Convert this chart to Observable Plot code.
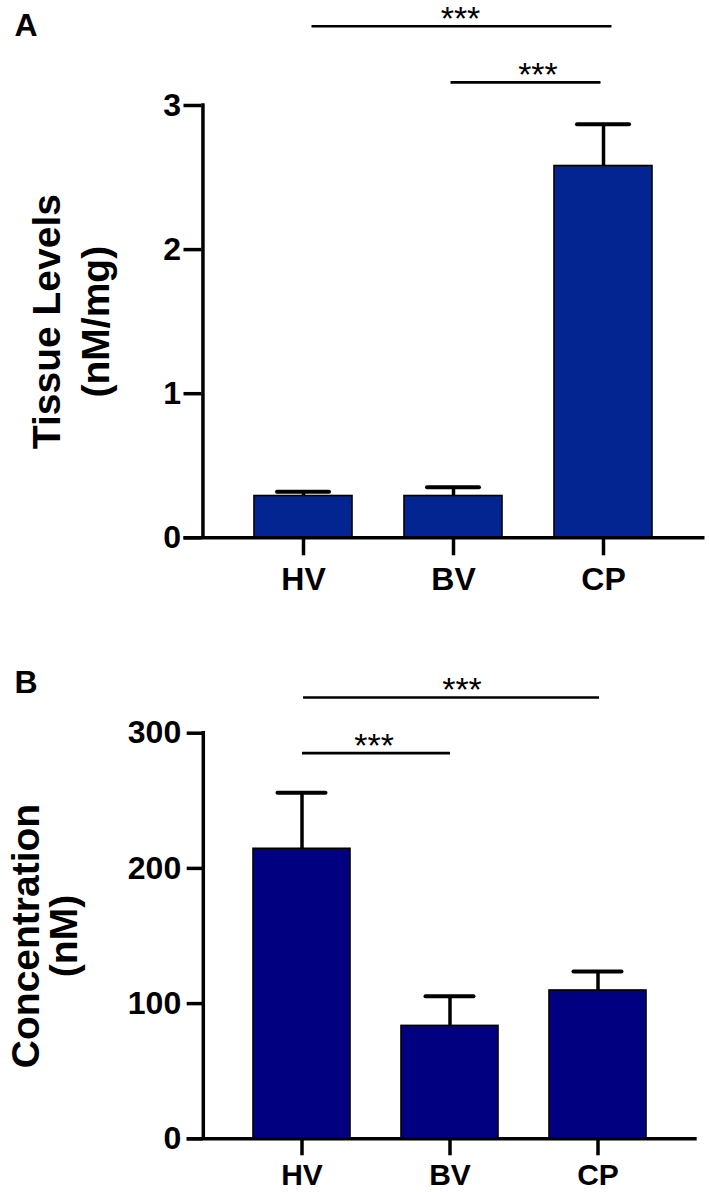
<!DOCTYPE html>
<html><head><meta charset="utf-8">
<script src="https://cdn.jsdelivr.net/npm/d3@7"></script>
<script src="https://cdn.jsdelivr.net/npm/@observablehq/plot@0.6"></script>
<style>
html,body{margin:0;padding:0;background:#fff;}
#chart{width:709px;}
#chart svg{display:block;}
</style></head><body><div id="chart"></div>
<script>
// ---- data ----
const categories = ["HV", "BV", "CP"];
const tissueMean = [0.29, 0.29, 2.58];
const tissueSEM  = [0.03, 0.06, 0.29];
const concMean   = [214.5, 83.5, 109.7];
const concSEM    = [41.5, 22, 14];
const tissueTicks = [0, 1, 2, 3];
const concTicks   = [0, 100, 200, 300];
const tissueComparisons = [["HV", "CP", "***"], ["BV", "CP", "***"]];
const concComparisons   = [["HV", "CP", "***"], ["HV", "BV", "***"]];
const tissueTitle = ["Tissue Levels", "(nM/mg)"];
const concTitle   = ["Concentration", "(nM)"];

const FONT = "'Liberation Sans', Arial, Helvetica, sans-serif";

function panel(cfg) {
  const rows = categories.map((c, i) => ({cat: c, mean: cfg.mean[i], err: cfg.err[i]}));
  const {width, height, ml, mr, mt, mb, pi, po} = cfg;
  const step = (width - ml - mr) / (categories.length - pi + 2 * po);
  const bw = step * (1 - pi);
  const yMax = cfg.ticks[cfg.ticks.length - 1];
  const comps = cfg.comps.map(([a, b, label], k) => ({
    a, b, label, level: cfg.levels[k],
    mid: (categories.indexOf(a) + categories.indexOf(b)) / 2
  }));
  const bracketMarks = comps.map((c, k) => Plot.link([c], {
    x1: "a", x2: "b", y1: "level", y2: "level", dx: cfg.lineShift[k],
    stroke: "black", strokeWidth: 2.7
  }));
  const starMarks = comps.map((c, k) => Plot.text([c], {
    x: d => categories[Math.floor(d.mid)], y: "level", text: "label",
    dx: (c.mid - Math.floor(c.mid)) * step + cfg.starShift[k], dy: -7,
    fontSize: 34, fontWeight: "normal", fill: "black"
  }));
  return Plot.plot({
    width, height,
    marginLeft: ml, marginRight: mr, marginTop: mt, marginBottom: mb,
    style: {fontFamily: FONT, color: "black", background: "white", overflow: "visible"},
    x: {type: "band", domain: categories, paddingInner: pi, paddingOuter: po},
    y: {domain: [0, yMax]},
    marks: [
      Plot.ruleX(rows, {x: "cat", y1: "mean", y2: d => d.mean + d.err, stroke: "black", strokeWidth: 3.5}),
      Plot.barY(rows, {x: "cat", y: "mean", fill: cfg.fill, stroke: "black", strokeWidth: 1.6}),
      Plot.tickY(rows, {x: "cat", y: d => d.mean + d.err, insetLeft: cfg.capInset, insetRight: cfg.capInset,
        stroke: "black", strokeWidth: 4, strokeLinecap: "round"}),
      // y axis line
      Plot.ruleX([categories[0]], {x: d => d, y1: 0, y2: yMax, dx: -(po * step + bw / 2),
        stroke: "black", strokeWidth: 3.5, strokeLinecap: "square"}),
      // x axis line (extends left to tick ends)
      Plot.ruleY([0], {insetLeft: -cfg.tickY, stroke: "black", strokeWidth: 3.5}),
      Plot.axisY({ticks: cfg.ticks, tickSize: cfg.tickY, tickPadding: cfg.padY, fontSize: cfg.fsY,
        fontWeight: "bold", stroke: "black", strokeWidth: 3.5, label: null, tickFormat: d => String(d)}),
      Plot.axisX({tickSize: cfg.tickX, tickPadding: cfg.padX, fontSize: cfg.fsX, fontWeight: "bold",
        stroke: "black", strokeWidth: 3.5, label: null}),
      ...bracketMarks,
      ...starMarks,
      Plot.text([cfg.letter], {text: d => d, frameAnchor: "top-left", textAnchor: "start", lineAnchor: "top",
        dx: cfg.letterX - ml, dy: cfg.letterY - mt, fontSize: 32, fontWeight: "bold", fill: "black"}),
      Plot.text([cfg.title[0]], {text: d => d, frameAnchor: "left", rotate: -90, textAnchor: "middle",
        lineAnchor: "bottom", dx: cfg.titleX[0] - ml, fontSize: 39, fontWeight: "bold", fill: "black"}),
      Plot.text([cfg.title[1]], {text: d => d, frameAnchor: "left", rotate: -90, textAnchor: "middle",
        lineAnchor: "bottom", dx: cfg.titleX[1] - ml, fontSize: 39, fontWeight: "bold", fill: "black"})
    ]
  });
}

const chart = document.getElementById("chart");
chart.append(panel({
  width: 709, height: 600, ml: 201.5, mr: 4.5, mt: 105, mb: 62.7, pi: 0.344, po: 0.338,
  mean: tissueMean, err: tissueSEM, ticks: tissueTicks, comps: tissueComparisons,
  levels: [3.55, 3.16], lineShift: [8, -3], starShift: [7, 9], fill: "#022592", capInset: 23,
  tickY: 18, padY: 3, fsY: 32, tickX: 18, padX: 11, fsX: 32,
  letter: "A", letterX: 14, letterY: 13, title: tissueTitle, titleX: [59, 108]
}));
chart.append(panel({
  width: 709, height: 592, ml: 202.7, mr: 12.3, mt: 132.7, mb: 53.7, pi: 0.343, po: 0.337,
  mean: concMean, err: concSEM, ticks: concTicks, comps: concComparisons,
  levels: [326.4, 285.2], lineShift: [1, 0], starShift: [12, -2], fill: "#000080", capInset: 24.5,
  tickY: 16, padY: 6, fsY: 32, tickX: 17, padX: 8, fsX: 30,
  letter: "B", letterX: 14, letterY: 70, title: concTitle, titleX: [38, 76]
}));
</script></body></html>
